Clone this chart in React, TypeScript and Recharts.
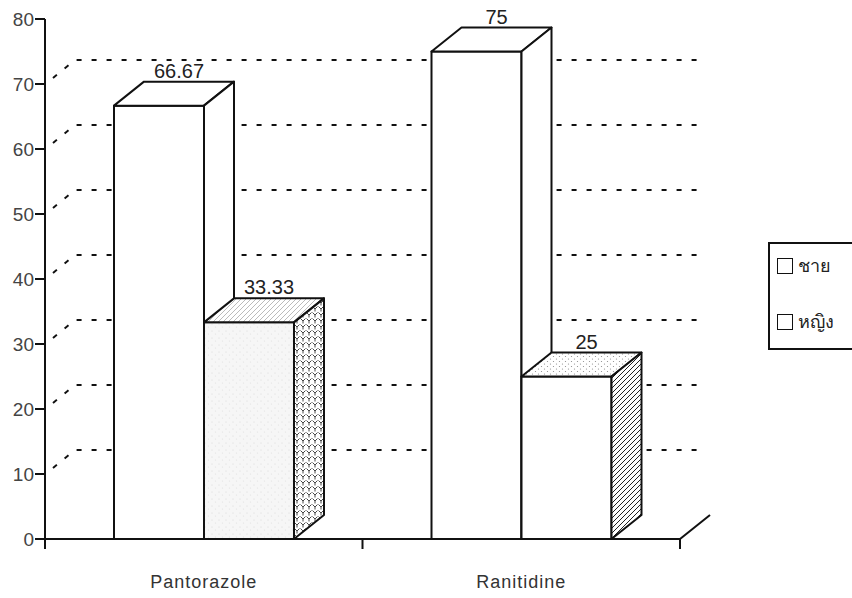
import { BarChart, Bar, XAxis, YAxis, CartesianGrid, Legend, LabelList } from "recharts";

const drugs = ["Pantorazole", "Ranitidine"];
const maleValues = [66.67, 75];
const femaleValues = [33.33, 25];
const seriesNames = ["ชาย", "หญิง"];
const yTicks = [0, 10, 20, 30, 40, 50, 60, 70, 80];

const data = drugs.map((drug, i) => ({
  drug,
  male: maleValues[i],
  female: femaleValues[i],
}));

const W = 852;
const H = 598;
const MARGIN = { top: 19, right: 172, bottom: 29, left: 0 };
const Y_AXIS_W = 45;
const X_AXIS_H = 30;
const PLOT_BOTTOM = H - MARGIN.bottom - X_AXIS_H;
const PLOT_W = W - MARGIN.right - MARGIN.left - Y_AXIS_W;
const HALF_BAND = PLOT_W / drugs.length / 2;
// 3d depth of the boxes and the back wall
const DX = 30;
const DY = 24;
const FONT = '"Liberation Sans", Arial, sans-serif';
const INK = "#111";

// face fills per bar of the female series (front, top, side)
const femaleFaces = [
  { front: "url(#stipple)", top: "url(#hatchLight)", side: "url(#scales)" },
  { front: "#fff", top: "url(#dots)", side: "url(#hatchSide)" },
];

function Patterns() {
  return (
    <defs>
      <pattern id="stipple" width="7" height="7" patternUnits="userSpaceOnUse">
        <rect width="7" height="7" fill="#f6f6f6" />
        <circle cx="2" cy="2" r="0.6" fill="#d8d8d8" />
        <circle cx="5.5" cy="5" r="0.6" fill="#e0e0e0" />
      </pattern>
      <pattern id="hatchLight" width="5" height="5" patternUnits="userSpaceOnUse">
        <rect width="5" height="5" fill="#fff" />
        <path d="M0,5 L5,0 M-1,1 L1,-1 M4,6 L6,4" stroke="#aaa" strokeWidth="0.8" />
      </pattern>
      <pattern id="scales" width="6" height="6" patternUnits="userSpaceOnUse">
        <rect width="6" height="6" fill="#fff" />
        <path d="M0.5,0.5 L3,3 L5.5,0.5 M3,3 L3,5.5" stroke="#333" strokeWidth="0.9" fill="none" />
      </pattern>
      <pattern id="dots" width="6" height="5" patternUnits="userSpaceOnUse">
        <rect width="6" height="5" fill="#fff" />
        <circle cx="1.5" cy="1.5" r="0.6" fill="#888" />
        <circle cx="4.5" cy="4" r="0.6" fill="#888" />
      </pattern>
      <pattern id="hatchSide" width="5" height="5" patternUnits="userSpaceOnUse">
        <rect width="5" height="5" fill="#fff" />
        <path d="M0,5 L5,0 M-1,1 L1,-1 M4,6 L6,4" stroke="#222" strokeWidth="1" />
      </pattern>
    </defs>
  );
}

function Box({ x, y, width, height, faces }: any) {
  const x2 = x + width;
  const y2 = y + height;
  const common = { stroke: INK, strokeWidth: 2, strokeLinejoin: "round" as const };
  return (
    <g>
      <rect x={x} y={y} width={width} height={height} fill={faces.front} {...common} />
      <polygon
        points={`${x},${y} ${x + DX},${y - DY} ${x2 + DX},${y - DY} ${x2},${y}`}
        fill={faces.top}
        {...common}
      />
      <polygon
        points={`${x2},${y} ${x2 + DX},${y - DY} ${x2 + DX},${y2 - DY} ${x2},${y2}`}
        fill={faces.side}
        {...common}
      />
    </g>
  );
}

const MaleShape = (props: any) => (
  <Box {...props} faces={{ front: "#fff", top: "#fff", side: "#fff" }} />
);

const FemaleShape = (props: any) => (
  <g>
    {props.index === 0 && <Patterns />}
    <Box {...props} faces={femaleFaces[props.index] ?? femaleFaces[1]} />
  </g>
);

const ValueLabel = (props: any) => {
  const { x, y, width, value } = props;
  return (
    <text
      x={x + width / 2 + DX / 2 + 5}
      y={y - DY - 4}
      textAnchor="middle"
      fontFamily={FONT}
      fontSize={20}
      fill="#222"
    >
      {value}
    </text>
  );
};

// dashed lines on the back wall, and the floor edge at the right
const backGrid = (props: any) => {
  const { x1, x2, y1, key } = props;
  if (Math.abs(y1 - MARGIN.top) < 1) return <g key={key} />;
  if (Math.abs(y1 - PLOT_BOTTOM) < 1)
    return <line key={key} x1={x2} y1={y1} x2={x2 + DX} y2={y1 - DY} stroke={INK} strokeWidth={2} />;
  return (
    <path
      key={key}
      d={`M${x1 + 8},${y1 - 6} L${x1 + DX},${y1 - DY} L${x2 + DX - 5},${y1 - DY}`}
      fill="none"
      stroke={INK}
      strokeWidth={2}
      strokeDasharray="5 10"
    />
  );
};

const XTick = (props: any) => {
  const { x, payload, index } = props;
  return (
    <g>
      <line x1={x - HALF_BAND} y1={PLOT_BOTTOM} x2={x - HALF_BAND} y2={PLOT_BOTTOM + 10} stroke={INK} strokeWidth={2} />
      {index === drugs.length - 1 && (
        <line x1={x + HALF_BAND} y1={PLOT_BOTTOM} x2={x + HALF_BAND} y2={PLOT_BOTTOM + 10} stroke={INK} strokeWidth={2} />
      )}
      <text x={x} y={PLOT_BOTTOM + 49} textAnchor="middle" fontFamily={FONT} fontSize={18} letterSpacing={1} fill="#333">
        {payload.value}
      </text>
    </g>
  );
};

const renderLegend = () => (
  <div
    style={{
      position: "relative",
      width: 100,
      height: 108,
      border: `2px solid ${INK}`,
      boxSizing: "border-box",
      background: "#fff",
      fontFamily: FONT,
      fontSize: 18,
      color: "#222",
    }}
  >
    {seriesNames.map((name, i) => (
      <div key={name} style={{ position: "absolute", left: 7, top: 13 + i * 56, display: "flex", alignItems: "center" }}>
        <span style={{ width: 14, height: 14, border: `1.5px solid ${INK}`, background: "#fff", display: "inline-block" }} />
        <span style={{ marginLeft: 5, lineHeight: "18px" }}>{name}</span>
      </div>
    ))}
  </div>
);

export default function App() {
  return (
    <div style={{ position: "absolute", left: 0, top: 0, width: W, height: H, overflow: "hidden", background: "#fff" }}>
      <BarChart width={W} height={H} data={data} margin={MARGIN} barSize={90} barGap={0}>
        <CartesianGrid vertical={false} horizontal={backGrid} />
        <XAxis
          dataKey="drug"
          height={X_AXIS_H}
          axisLine={{ stroke: INK, strokeWidth: 2 }}
          tickLine={false}
          tick={<XTick />}
          interval={0}
        />
        <YAxis
          width={Y_AXIS_W}
          domain={[0, 80]}
          ticks={yTicks}
          axisLine={{ stroke: INK, strokeWidth: 2 }}
          tickLine={{ stroke: INK, strokeWidth: 2 }}
          tickSize={10}
          tickMargin={1}
          tick={{ fontFamily: FONT, fontSize: 19, fill: "#444" }}
        />
        <Legend
          layout="horizontal"
          verticalAlign="middle"
          align="center"
          content={renderLegend}
          wrapperStyle={{ left: 768, top: 242, width: 100, height: 108 }}
        />
        <Bar dataKey="male" name={seriesNames[0]} shape={MaleShape} isAnimationActive={false}>
          <LabelList dataKey="male" content={ValueLabel} />
        </Bar>
        <Bar dataKey="female" name={seriesNames[1]} shape={FemaleShape} isAnimationActive={false}>
          <LabelList dataKey="female" content={ValueLabel} />
        </Bar>
      </BarChart>
    </div>
  );
}
